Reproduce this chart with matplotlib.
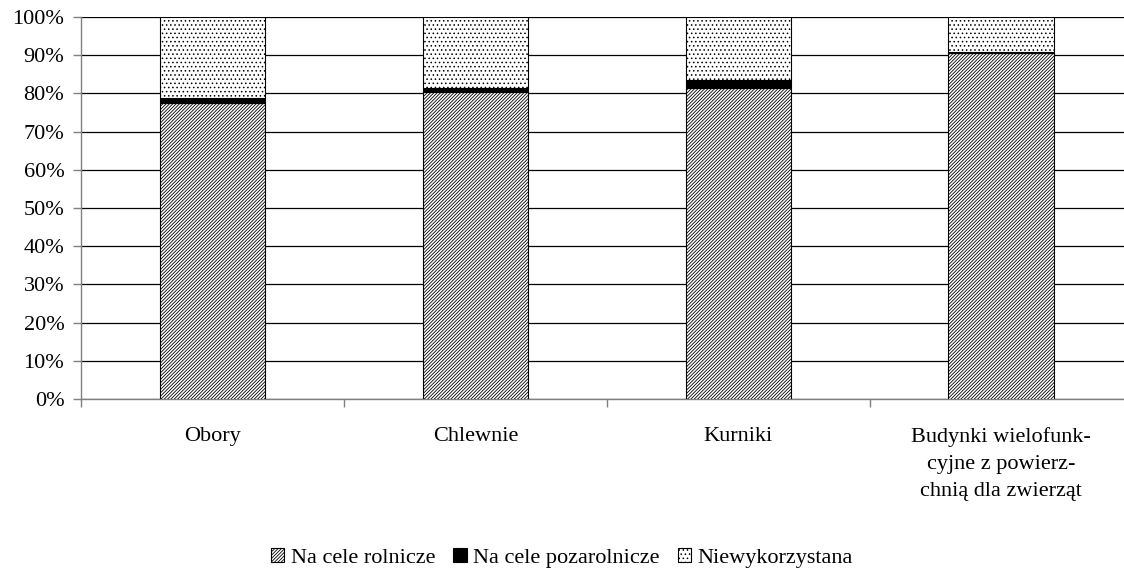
import numpy as np
import matplotlib
matplotlib.use("Agg")
import matplotlib.pyplot as plt

# === Data ===
categories = ["Obory", "Chlewnie", "Kurniki",
              "Budynki wielofunk-\ncyjne z powierz-\nchnią dla zwierząt"]
rolnicze = [77.4, 80.4, 81.5, 90.5]
pozarolnicze = [1.5, 0.9, 2.0, 0.3]
niewykorzystana = [21.1, 18.7, 16.5, 9.2]
series_names = ["Na cele rolnicze", "Na cele pozarolnicze", "Niewykorzystana"]

plt.rcParams["font.family"] = ["Liberation Serif", "DejaVu Serif"]
plt.rcParams["font.size"] = 16
plt.rcParams["hatch.linewidth"] = 0.6

fig = plt.figure(figsize=(11.24, 5.68), dpi=100)
ax = fig.add_axes([81 / 1124, 1 - 399 / 568, (1132.5 - 81) / 1124, (399 - 17) / 568])

x = np.arange(len(categories))
w = 0.40
b1 = np.array(rolnicze)
b2 = b1 + np.array(pozarolnicze)

ax.bar(x, rolnicze, w, color="white", edgecolor="black", hatch="/" * 10,
       linewidth=0.8, label=series_names[0], zorder=3)
ax.bar(x, pozarolnicze, w, bottom=b1, color="black", edgecolor="black",
       linewidth=0.8, label=series_names[1], zorder=3)
ax.bar(x, niewykorzystana, w, bottom=b2, color="white", edgecolor="black",
       hatch="....", linewidth=0.8, label=series_names[2], zorder=3)

# === Axes styling ===
ax.set_xlim(-0.5, len(categories) - 0.5)
ax.set_ylim(0, 100)
ax.set_yticks(np.arange(0, 101, 10))
ax.set_yticklabels([f"{v}%" for v in range(0, 101, 10)])
ax.yaxis.grid(True, color="black", linewidth=0.9, zorder=0)
ax.set_axisbelow(True)

ax.set_xticks(x)
ax.set_xticklabels(categories, linespacing=1.58)
ax.set_xticks(np.arange(-0.5, len(categories), 1), minor=True)
ax.tick_params(axis="x", which="major", length=0, pad=20)
ax.tick_params(axis="x", which="minor", length=6, width=1, color="#808080")
ax.tick_params(axis="y", length=6, width=1, color="#808080", pad=6)

for s in ["top", "right"]:
    ax.spines[s].set_visible(False)
ax.spines["left"].set_color("#808080")
ax.spines["bottom"].set_color("#808080")
ax.spines["left"].set_linewidth(1)
ax.spines["bottom"].set_linewidth(1)

fig.legend(loc="center", bbox_to_anchor=(0.5, 1 - 558 / 568), ncol=3,
           frameon=False, handlelength=0.6, handleheight=0.6,
           handletextpad=0.3, columnspacing=0.8, fontsize=16)

fig.savefig("out.png", dpi=100)
